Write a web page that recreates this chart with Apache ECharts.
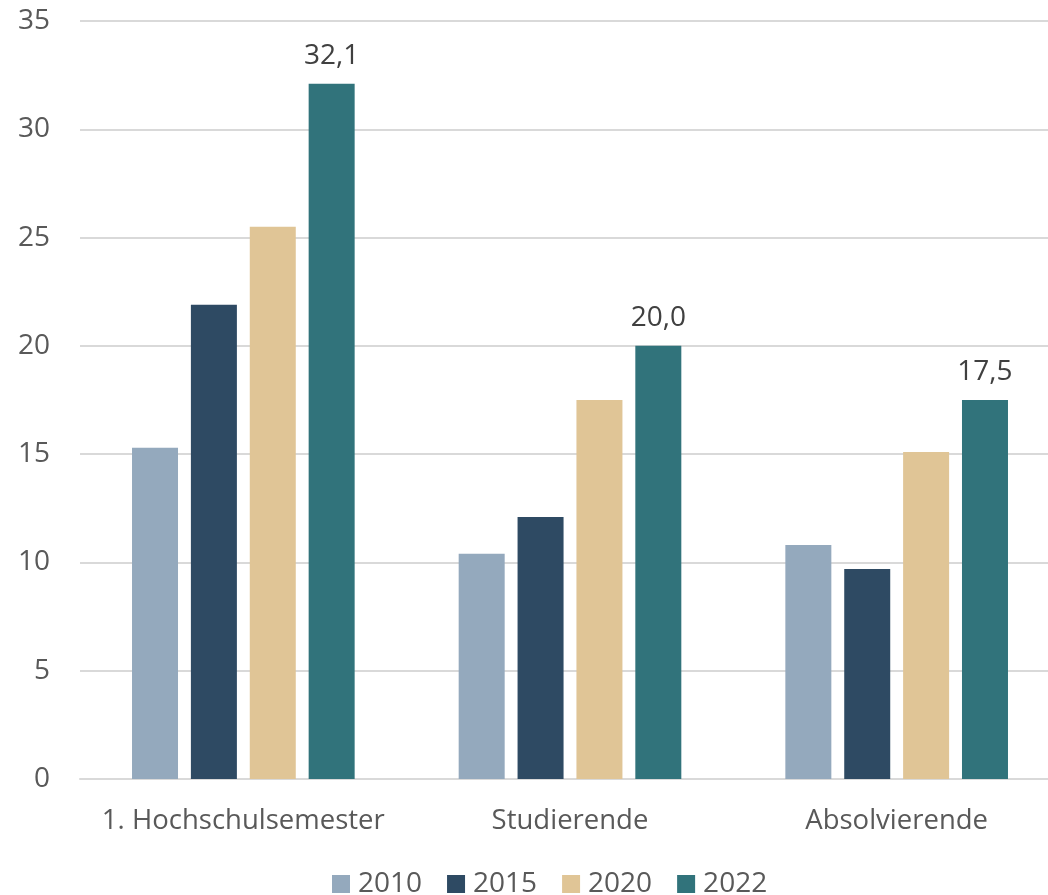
<!DOCTYPE html>
<html>
<head>
<meta charset="utf-8">
<script src="https://cdn.jsdelivr.net/npm/echarts@6/dist/echarts.min.js"></script>
<style>
  html, body { margin: 0; padding: 0; background: #fff; }
  #chart { width: 1048px; height: 895px; }
</style>
</head>
<body>
<div id="chart"></div>
<script>
const categories = ["1. Hochschulsemester", "Studierende", "Absolvierende"];
const years = ["2010", "2015", "2020", "2022"];
const values2010 = [15.3, 10.4, 10.8];
const values2015 = [21.9, 12.1, 9.7];
const values2020 = [25.5, 17.5, 15.1];
const values2022 = [32.1, 20.0, 17.5];
const yTicks = [0, 5, 10, 15, 20, 25, 30, 35];

const colors = ["#94A9BD", "#2E4A63", "#E0C596", "#31737B"];
const fontFamily = "'Open Sans', 'Noto Sans', sans-serif";

const chart = echarts.init(document.getElementById("chart"));

const makeSeries = (name, data, color, showLabel) => ({
  name: name,
  type: "bar",
  data: data,
  barWidth: 46,
  barGap: "28%",
  itemStyle: { color: color },
  label: {
    show: showLabel,
    position: "top",
    distance: 14,
    color: "#404040",
    fontSize: 28,
    fontFamily: fontFamily,
    formatter: (p) => p.value.toFixed(1).replace(".", ","),
  },
});

const option = {
  animation: false,
  grid: { left: 80, top: 21, width: 980, height: 758, outerBoundsMode: "none" },
  legend: {
    top: 870,
    left: 332,
    padding: 0,
    itemWidth: 18,
    itemHeight: 18,
    itemGap: 25,
    icon: "rect",
    textStyle: { color: "#595959", fontSize: 28, fontFamily: fontFamily, padding: [0, 0, 0, 3] },
    data: years,
  },
  xAxis: {
    type: "category",
    data: categories,
    axisLine: { lineStyle: { color: "#d9d9d9", width: 2 } },
    axisTick: { show: false },
    axisLabel: { color: "#595959", fontSize: 27.5, fontFamily: fontFamily, margin: 28, interval: 0 },
  },
  yAxis: {
    type: "value",
    min: yTicks[0],
    max: yTicks[yTicks.length - 1],
    interval: 5,
    axisLine: { show: false },
    axisTick: { show: false },
    splitLine: { lineStyle: { color: "#d9d9d9", width: 2 } },
    axisLabel: { color: "#595959", fontSize: 28, fontFamily: fontFamily, margin: 30 },
  },
  series: [
    makeSeries(years[0], values2010, colors[0], false),
    makeSeries(years[1], values2015, colors[1], false),
    makeSeries(years[2], values2020, colors[2], false),
    makeSeries(years[3], values2022, colors[3], true),
  ],
};

chart.setOption(option);
</script>
</body>
</html>
